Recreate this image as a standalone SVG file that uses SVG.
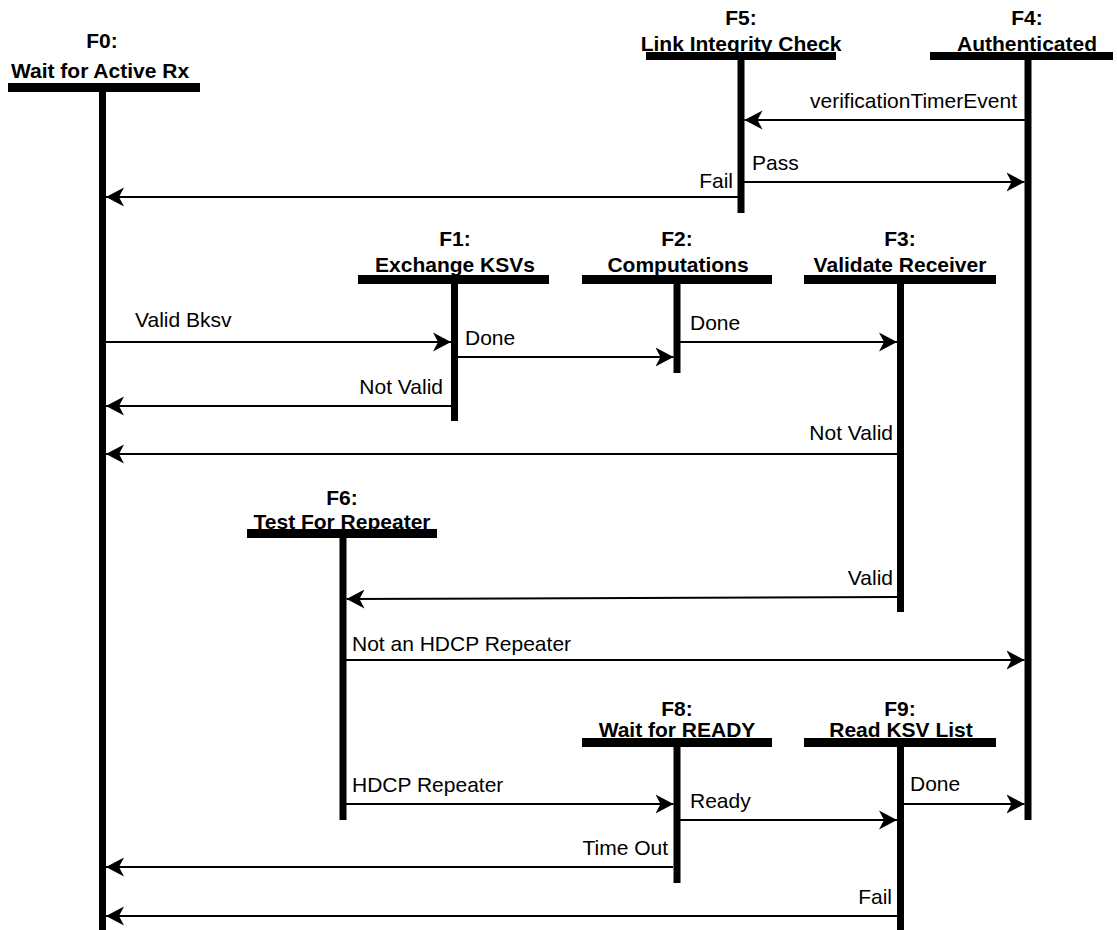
<svg xmlns="http://www.w3.org/2000/svg" width="1117" height="930" viewBox="0 0 1117 930">
<style>
.t{font-family:"Liberation Sans",Arial,sans-serif;font-weight:bold;font-size:21px;fill:#000;text-anchor:middle}
.l{font-family:"Liberation Sans",Arial,sans-serif;font-size:21px;fill:#000}
.e{text-anchor:end}
.bar{fill:#000}
.life{stroke:#000;stroke-width:7;fill:none}
.c{stroke:#000;stroke-width:2;fill:none;marker-end:url(#ah)}
</style>
<defs>
<marker id="ah" markerUnits="userSpaceOnUse" markerWidth="20" markerHeight="20" refX="18" refY="9.5" orient="auto" viewBox="0 0 20 19">
<path d="M0,0 L18,9.5 L0,19 L5,9.5 z" fill="#000"/>
</marker>
</defs>
<rect width="1117" height="930" fill="#fff"/>
<g id="F0">
<text class="t" x="102" y="48">F0:</text>
<text class="t" x="100" y="78">Wait for Active Rx</text>
<rect class="bar" x="8" y="83" width="192" height="9"/>
<line class="life" x1="102.5" y1="92" x2="102.5" y2="930"/>
</g>
<g id="F5">
<text class="t" x="741" y="25">F5:</text>
<text class="t" x="741" y="51">Link Integrity Check</text>
<rect class="bar" x="646" y="52" width="190" height="8"/>
<line class="life" x1="741" y1="60" x2="741" y2="213"/>
</g>
<g id="F4">
<text class="t" x="1027" y="25">F4:</text>
<text class="t" x="1027" y="51">Authenticated</text>
<rect class="bar" x="930" y="52" width="183" height="8"/>
<line class="life" x1="1028" y1="60" x2="1028" y2="820"/>
</g>
<g id="F1">
<text class="t" x="455" y="246">F1:</text>
<text class="t" x="455" y="272">Exchange KSVs</text>
<rect class="bar" x="358" y="275" width="191" height="9"/>
<line class="life" x1="454.5" y1="284" x2="454.5" y2="421"/>
</g>
<g id="F2">
<text class="t" x="677" y="246">F2:</text>
<text class="t" x="678" y="272">Computations</text>
<rect class="bar" x="582" y="275" width="190" height="9"/>
<line class="life" x1="677" y1="284" x2="677" y2="373"/>
</g>
<g id="F3">
<text class="t" x="900" y="246">F3:</text>
<text class="t" x="900" y="272">Validate Receiver</text>
<rect class="bar" x="804" y="275" width="192" height="9"/>
<line class="life" x1="900.5" y1="284" x2="900.5" y2="612"/>
</g>
<g id="F6">
<text class="t" x="342" y="505">F6:</text>
<text class="t" x="342" y="529">Test For Repeater</text>
<rect class="bar" x="247" y="529" width="190" height="9"/>
<line class="life" x1="343" y1="538" x2="343" y2="820"/>
</g>
<g id="F8">
<text class="t" x="677" y="716">F8:</text>
<text class="t" x="677" y="737">Wait for READY</text>
<rect class="bar" x="582" y="738" width="190" height="9"/>
<line class="life" x1="677" y1="747" x2="677" y2="883"/>
</g>
<g id="F9">
<text class="t" x="900" y="716">F9:</text>
<text class="t" x="901" y="737">Read KSV List</text>
<rect class="bar" x="804" y="738" width="192" height="9"/>
<line class="life" x1="900.5" y1="747" x2="900.5" y2="930"/>
</g>
<g id="connectors">
<line class="c" x1="1025" y1="120" x2="744.5" y2="120"/>
<text class="l e" x="1017" y="108">verificationTimerEvent</text>
<line class="c" x1="744" y1="182" x2="1024.5" y2="182"/>
<text class="l" x="752" y="170">Pass</text>
<line class="c" x1="738" y1="197" x2="106" y2="197"/>
<text class="l e" x="733" y="188">Fail</text>
<line class="c" x1="106" y1="342" x2="451" y2="342"/>
<text class="l" x="135" y="327">Valid Bksv</text>
<line class="c" x1="458" y1="357" x2="673.5" y2="357"/>
<text class="l" x="465" y="345">Done</text>
<line class="c" x1="451" y1="406" x2="106" y2="406"/>
<text class="l e" x="443" y="394">Not Valid</text>
<line class="c" x1="680" y1="342" x2="897" y2="342"/>
<text class="l" x="690" y="330">Done</text>
<line class="c" x1="897" y1="454" x2="106" y2="454"/>
<text class="l e" x="893" y="440">Not Valid</text>
<line class="c" x1="897" y1="597" x2="346.5" y2="599"/>
<text class="l e" x="893" y="585">Valid</text>
<line class="c" x1="346" y1="660" x2="1024.5" y2="660"/>
<text class="l" x="352" y="651">Not an HDCP Repeater</text>
<line class="c" x1="346" y1="804" x2="673.5" y2="804"/>
<text class="l" x="352" y="792">HDCP Repeater</text>
<line class="c" x1="680" y1="820" x2="897" y2="820"/>
<text class="l" x="690" y="808">Ready</text>
<line class="c" x1="904" y1="804" x2="1024.5" y2="804"/>
<text class="l" x="910" y="791">Done</text>
<line class="c" x1="673" y1="867" x2="106" y2="867"/>
<text class="l e" x="668" y="855">Time Out</text>
<line class="c" x1="897" y1="916" x2="106" y2="916"/>
<text class="l e" x="892" y="904">Fail</text>
</g>
</svg>
